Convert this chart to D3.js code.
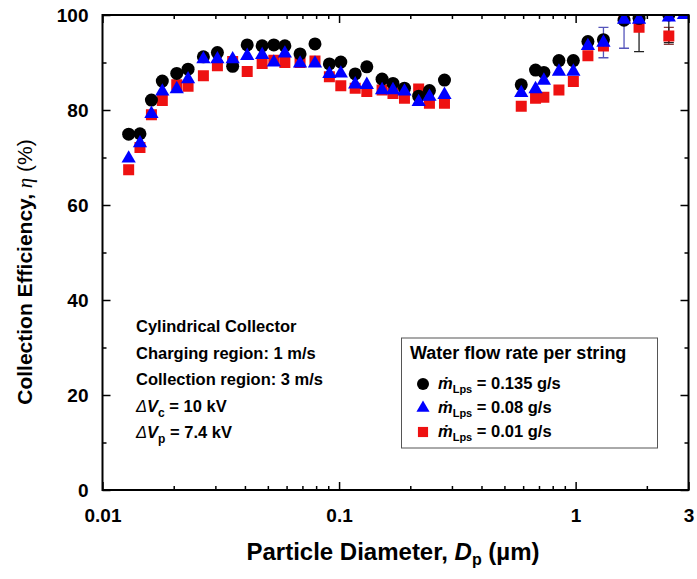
<!DOCTYPE html>
<html>
<head>
<meta charset="utf-8">
<script src="https://cdn.jsdelivr.net/npm/d3@7"></script>
<style>
  html, body { margin: 0; padding: 0; background: #fff; }
  svg { display: block; font-family: "Liberation Sans", Arial, sans-serif; }
</style>
</head>
<body>
<svg id="chart" width="697" height="579"></svg>
<script>
// ---- Data ----
const diameters = [0.0129, 0.0144, 0.0161, 0.0179, 0.0206, 0.0230, 0.0267, 0.0306, 0.0355, 0.0409,
  0.0473, 0.0530, 0.0590, 0.0684, 0.0791, 0.0910, 0.1017, 0.117, 0.131, 0.152,
  0.169, 0.189, 0.217, 0.241, 0.279, 0.589, 0.677, 0.734, 0.850, 0.978,
  1.127, 1.311, 1.602, 1.854, 2.477, 2.87];
const eff135 = [74.9, 75.0, 82.1, 86.1, 87.7, 88.6, 91.2, 92.1, 89.2, 93.7,
  93.5, 93.7, 93.5, 91.8, 93.9, 89.7, 90.1, 87.6, 89.1, 86.5,
  85.6, 84.6, 82.9, 84.1, 86.3, 85.3, 88.4, 87.9, 90.4, 90.4,
  94.4, 94.8, 98.9, 99.3, 100, null];
const eff008 = [69.8, 73.0, 79.2, 83.9, 84.4, 86.5, 90.7, 90.7, 90.7, 91.4,
  91.6, 90.0, 91.9, 89.8, 89.8, 87.6, 87.7, 85.4, 85.3, 84.2,
  84.2, 83.9, 81.7, 82.8, 83.2, 83.6, 84.4, 86.2, 88.1, 88.1,
  93.5, 94.2, 99.0, 99.0, 99.5, 100];
const eff001 = [67.4, 72.1, 79.0, 82.0, 85.3, 85.0, 87.2, 89.3, 90.2, 88.1,
  89.8, 90.5, 90.0, 90.0, 90.3, 87.0, 85.1, 84.6, 83.9, 84.2,
  83.5, 82.5, 84.4, 81.4, 81.4, 80.8, 82.5, 82.7, 84.2, 86.0,
  91.4, 93.5, 100, 97.4, 95.6, null];
const err135 = [0,0,0,0,0,0,0,0,0,0, 0,0,0,0,0,0,0,0,0,0, 0,0,0,0,0,0,0,0,0,0, 0,0,0,7.0,5.8,0];
const err008 = [0,0,0,0,0,0,0,0,0,0, 0,0,0,0,0,0,0,0,0,0, 0,0,0,0,0,0,0,0,0,0, 0,3.2,6.0,0,0,0];
const err001 = [0,0,0,0,0,0,0,0,0,0, 0,0,0,0,0,0,0,0,0,0, 0,0,0,0,0,0,0,0,0,0, 0,0,0,0,1.8,0];
const xTickLabels = ["0.01", "0.1", "1", "3"];
const xTickValues = [0.01, 0.1, 1, 3];
const yTickValues = [0, 20, 40, 60, 80, 100];
const legendLabels = ["0.135 g/s", "0.08 g/s", "0.01 g/s"];
const noteLines = ["Cylindrical Collector", "Charging region: 1 m/s", "Collection region: 3 m/s"];

// ---- Layout ----
const svg = d3.select("#chart");
const L = 102.5, R = 688.5, T = 15, B = 490;
const x = d3.scaleLog().domain([0.01, 3]).range([L, R]);
const y = d3.scaleLinear().domain([0, 100]).range([B, T]);

const minorX = [];
[0.01, 0.1, 1].forEach(d => { for (let k = 2; k <= 9; k++) { const v = d * k; if (v < 3) minorX.push(v); } });
const minorY = d3.range(10, 100, 20);

const tickFont = "bold 19px 'Liberation Sans', Arial, sans-serif";

function styleAxis(g) {
  g.select(".domain").remove();
  g.selectAll(".tick line").attr("stroke", "#000").attr("stroke-width", 1.5);
  g.selectAll("text").style("font", tickFont).attr("fill", "#000");
}

// bottom axis (major + labels)
svg.append("g").attr("transform", `translate(0,${B})`)
  .call(d3.axisBottom(x).tickValues(xTickValues).tickSize(-8).tickPadding(19)
    .tickFormat((d, i) => xTickLabels[i]))
  .call(styleAxis);
svg.append("g").attr("transform", `translate(0,${B})`)
  .call(d3.axisBottom(x).tickValues(minorX).tickSize(-4).tickFormat(""))
  .call(styleAxis);
// top axis
svg.append("g").attr("transform", `translate(0,${T})`)
  .call(d3.axisTop(x).tickValues(xTickValues).tickSize(-8).tickFormat(""))
  .call(styleAxis);
svg.append("g").attr("transform", `translate(0,${T})`)
  .call(d3.axisTop(x).tickValues(minorX).tickSize(-4).tickFormat(""))
  .call(styleAxis);
// left axis
svg.append("g").attr("transform", `translate(${L},0)`)
  .call(d3.axisLeft(y).tickValues(yTickValues).tickSize(-8).tickPadding(14))
  .call(styleAxis);
svg.append("g").attr("transform", `translate(${L},0)`)
  .call(d3.axisLeft(y).tickValues(minorY).tickSize(-4).tickFormat(""))
  .call(styleAxis);
// right axis
svg.append("g").attr("transform", `translate(${R},0)`)
  .call(d3.axisRight(y).tickValues(yTickValues).tickSize(-8).tickFormat(""))
  .call(styleAxis);
svg.append("g").attr("transform", `translate(${R},0)`)
  .call(d3.axisRight(y).tickValues(minorY).tickSize(-4).tickFormat(""))
  .call(styleAxis);

// clip
svg.append("clipPath").attr("id", "plotclip")
  .append("rect").attr("x", L).attr("y", T).attr("width", R - L).attr("height", B - T);

const plot = svg.append("g").attr("clip-path", "url(#plotclip)");

const series = [
  { vals: eff001, errs: err001, color: "#ee1111", errColor: "#8a3a3a", sym: d3.symbolSquare, size: 121 },
  { vals: eff135, errs: err135, color: "#000000", errColor: "#222222", sym: d3.symbolCircle, size: 133 },
  { vals: eff008, errs: err008, color: "#0000ff", errColor: "#5555bb", sym: d3.symbolTriangle, size: 88 }
];

// error bars first
series.forEach(s => {
  const pts = diameters.map((d, i) => ({ d, v: s.vals[i], e: s.errs[i] })).filter(p => p.v != null && p.e > 0);
  const g = plot.append("g").attr("stroke", s.errColor).attr("stroke-width", 1.3).attr("fill", "none");
  pts.forEach(p => {
    const cx = x(p.d);
    g.append("line").attr("x1", cx).attr("x2", cx).attr("y1", y(p.v + p.e)).attr("y2", y(p.v - p.e));
    g.append("line").attr("x1", cx - 5).attr("x2", cx + 5).attr("y1", y(p.v + p.e)).attr("y2", y(p.v + p.e));
    g.append("line").attr("x1", cx - 5).attr("x2", cx + 5).attr("y1", y(p.v - p.e)).attr("y2", y(p.v - p.e));
  });
});
series.forEach(s => {
  const pts = diameters.map((d, i) => ({ d, v: s.vals[i] })).filter(p => p.v != null);
  plot.append("g").selectAll("path").data(pts).join("path")
    .attr("d", d3.symbol().type(s.sym).size(s.size))
    .attr("transform", p => `translate(${x(p.d)},${y(p.v)})`)
    .attr("fill", s.color);
});

// frame
svg.append("rect").attr("x", L).attr("y", T).attr("width", R - L).attr("height", B - T)
  .attr("fill", "none").attr("stroke", "#000").attr("stroke-width", 2);

// axis titles
const xt = svg.append("text").attr("x", 393).attr("y", 560).attr("text-anchor", "middle")
  .style("font", "bold 24px 'Liberation Sans', Arial, sans-serif");
xt.append("tspan").text("Particle Diameter, ");
xt.append("tspan").attr("font-style", "italic").text("D");
xt.append("tspan").attr("font-size", "16px").attr("dy", 5).text("p");
xt.append("tspan").attr("dy", -5).text(" (\u00B5m)");

const yt = svg.append("text").attr("transform", `translate(32,272) rotate(-90)`)
  .attr("text-anchor", "middle")
  .style("font", "bold 21px 'Liberation Sans', Arial, sans-serif");
yt.append("tspan").text("Collection Efficiency, ");
yt.append("tspan").attr("font-style", "italic").attr("font-weight", "normal")
  .attr("font-family", "'Liberation Serif', serif").text("\u03B7");
yt.append("tspan").attr("font-weight", "normal").text(" (%)");

// annotation
const noteFont = "bold 16.5px 'Liberation Sans', Arial, sans-serif";
const noteX = 136, noteY0 = 332, noteDy = 26.5;
noteLines.forEach((t, i) => {
  svg.append("text").attr("x", noteX).attr("y", noteY0 + i * noteDy).style("font", noteFont).text(t);
});
[["c", "10 kV"], ["p", "7.4 kV"]].forEach((pair, j) => {
  const t = svg.append("text").attr("x", noteX).attr("y", noteY0 + (3 + j) * noteDy).style("font", noteFont);
  t.append("tspan").attr("font-style", "italic").attr("font-weight", "normal").text("\u0394");
  t.append("tspan").attr("font-style", "italic").text("V");
  t.append("tspan").attr("font-size", "12px").attr("dy", 5).text(pair[0]);
  t.append("tspan").attr("dy", -5).text(" = " + pair[1]);
});

// legend
const lg = svg.append("g");
lg.append("rect").attr("x", 401.5).attr("y", 338).attr("width", 256).attr("height", 110)
  .attr("fill", "#fff").attr("stroke", "#555").attr("stroke-width", 1);
lg.append("text").attr("x", 410).attr("y", 359).style("font", "bold 18px 'Liberation Sans', Arial, sans-serif")
  .text("Water flow rate per string");
const legSeries = [series[1], series[2], series[0]];
legSeries.forEach((s, i) => {
  const cy = 384 + i * 24;
  lg.append("path").attr("d", d3.symbol().type(s.sym).size(s.size * 0.85)())
    .attr("transform", `translate(423,${cy})`).attr("fill", s.color);
  const t = lg.append("text").attr("x", 438).attr("y", cy + 5)
    .style("font", "bold 16.5px 'Liberation Sans', Arial, sans-serif");
  t.append("tspan").attr("font-style", "italic").text("\u1E41");
  t.append("tspan").attr("font-size", "11px").attr("dy", 4).text("Lps");
  t.append("tspan").attr("dy", -4).text(" = " + legendLabels[i]);
});
</script>
</body>
</html>
